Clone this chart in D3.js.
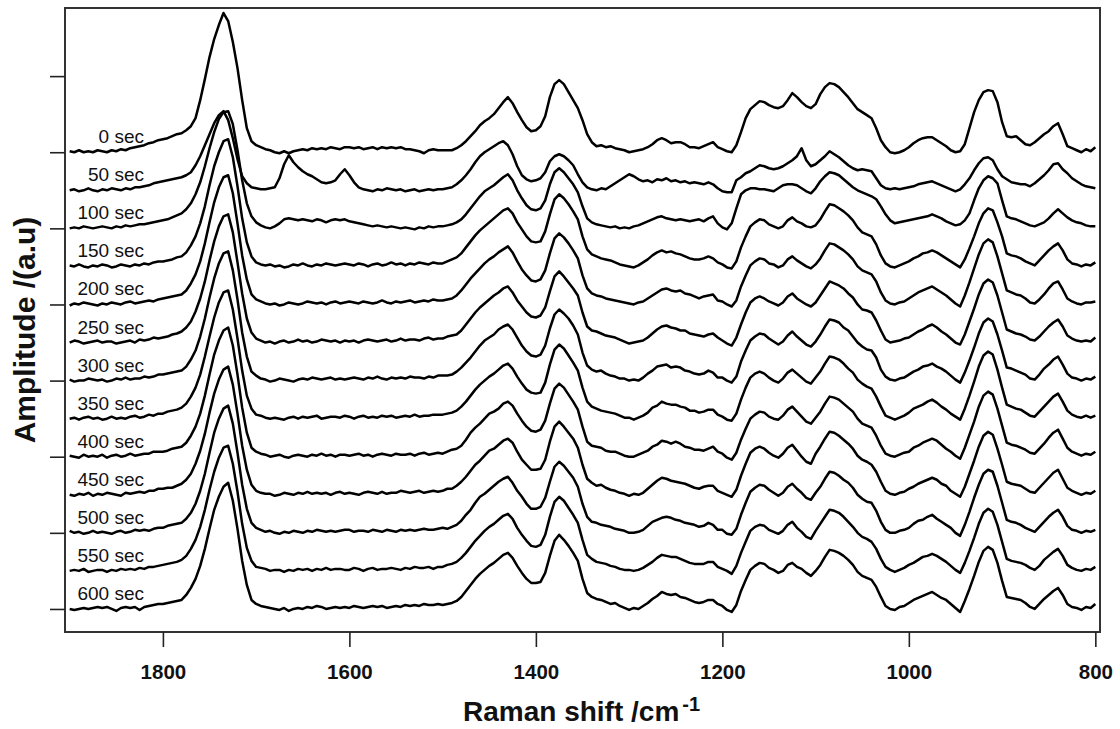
<!DOCTYPE html>
<html><head><meta charset="utf-8">
<script src="https://cdn.jsdelivr.net/npm/d3@7"></script>
<style>body{margin:0;background:#fff}svg{display:block}</style>
</head><body>
<svg id="chart" width="1120" height="729"></svg>
<script>
// Raman shift grid (cm^-1), 1900 -> 800 in 5 cm^-1 steps (221 points)
const wavenumbers = d3.range(1900, 795, -5);
const timeLabels = ["0 sec","50 sec","100 sec","150 sec","200 sec","250 sec","300 sec","350 sec","400 sec","450 sec","500 sec","550 sec","600 sec"];
const xTickValues = [1800, 1600, 1400, 1200, 1000, 800];
const yTickValues = [0, 76, 152, 228, 304, 380, 456, 532];
const offsetStep = 38; // vertical stacking offset between spectra (a.u.)

// amplitudes (a.u., relative to each spectrum's own baseline)
const amp0 = [
 1,0,2,0,1,0,2,1,0,2,1,3,2,4,5,6,7,9,10,12,
 13,14,16,18,19,22,26,34,52,73,95,113,127,139,131,110,84,52,24,11,
 7,5,3,2,0,-1,1,-1,1,2,3,2,4,3,4,3,5,4,3,5,
 5,4,5,3,4,5,3,5,4,5,4,5,3,3,2,1,-1,2,3,2,
 2,2,2,4,7,11,16,21,27,31,34,38,44,50,55,49,40,32,25,21,
 22,26,36,55,68,72,68,60,52,44,32,18,10,6,7,5,6,4,3,2,
 0,1,2,3,5,8,12,14,12,9,10,10,8,5,5,4,6,8,10,5,
 3,1,0,7,20,34,43,47,51,50,47,45,44,46,52,59,55,50,46,44,
 48,58,65,69,68,65,60,55,49,43,40,37,34,24,12,5,0,-1,0,2,
 5,9,12,14,15,15,12,9,6,2,0,1,8,24,40,52,60,62,61,50,
 30,16,15,16,12,8,7,10,14,18,21,26,29,18,6,4,2,0,3,1,
 5];
const amp50 = [
 0,1,-1,0,2,0,-1,1,0,2,1,0,2,1,3,3,4,5,7,8,
 9,10,11,12,13,15,18,25,34,45,56,67,75,79,70,52,31,14,7,3,
 2,1,1,2,3,12,26,35,28,23,19,16,14,11,8,7,8,10,16,21,
 15,8,3,1,0,-1,1,0,2,1,0,1,-1,0,1,-1,0,1,0,1,
 1,2,3,6,10,15,21,28,34,38,41,44,47,49,45,36,24,15,11,9,
 10,12,18,29,34,36,34,30,25,16,8,3,1,0,2,1,4,7,10,13,
 16,14,11,9,10,8,11,10,12,9,10,8,9,7,8,7,6,8,6,2,
 -1,-2,-2,10,13,17,19,22,25,24,22,21,22,24,27,30,34,42,30,24,
 26,30,34,39,36,33,29,25,22,20,21,20,19,12,5,2,1,2,1,2,
 3,4,6,7,8,9,7,5,3,1,-1,1,6,12,20,27,32,33,30,21,
 14,11,8,7,6,6,4,7,11,15,20,26,27,21,17,12,9,6,4,3,
 2];
const amp100 = [
 0,1,0,2,1,0,1,2,1,0,2,1,3,2,3,4,4,5,6,7,
 8,9,11,13,15,19,25,34,46,62,80,96,109,116,117,104,78,48,25,12,
 6,3,1,0,2,5,9,10,9,8,9,8,7,9,8,6,8,9,8,9,
 7,6,5,4,3,2,3,2,1,2,1,0,1,0,-1,1,0,2,1,2,
 2,3,4,6,9,14,20,26,32,37,40,43,47,51,54,48,38,30,23,19,
 18,20,28,44,56,60,56,50,44,36,22,10,6,4,3,2,1,2,0,1,
 0,2,3,5,7,9,11,12,10,9,8,9,8,7,8,9,7,10,12,5,
 1,-1,5,20,34,38,40,40,39,39,38,37,40,43,44,44,43,40,37,35,
 40,47,52,56,55,53,49,45,41,38,36,34,32,29,22,14,8,5,6,7,
 8,9,10,11,12,14,12,10,7,5,3,4,8,15,28,40,48,52,50,45,
 28,12,10,9,7,5,3,2,4,6,10,15,19,15,11,8,6,5,3,2,
 2];
const amp150 = [
 1,0,2,0,-1,1,0,2,1,-1,0,2,1,0,2,1,3,2,4,5,
 5,6,7,9,10,14,21,30,43,60,81,100,114,125,127,109,80,48,24,10,
 4,2,1,2,0,1,-1,0,2,1,3,1,0,2,1,3,2,1,2,3,
 2,1,3,2,0,2,3,1,2,4,2,3,1,3,2,4,3,2,4,3,
 3,5,7,9,13,19,25,31,36,40,44,48,52,56,58,53,44,37,30,25,
 24,25,35,52,67,72,68,62,55,47,30,17,12,10,8,7,6,4,2,1,
 0,-1,1,4,7,11,14,16,14,15,13,12,10,8,7,7,8,10,8,4,
 2,-1,-2,5,19,30,40,44,47,46,42,40,38,40,46,49,45,43,40,39,
 41,47,55,62,61,58,55,51,46,39,34,32,30,22,11,3,0,-1,1,3,
 5,8,10,13,14,16,14,11,8,5,2,-1,7,18,30,43,53,58,56,44,
 30,13,11,10,8,5,3,1,6,11,16,20,23,16,7,3,2,0,2,1,
 4];
const amp200 = [
 -1,1,0,2,1,0,-1,1,0,2,1,0,2,3,1,2,3,4,3,5,
 6,7,8,9,10,14,21,30,43,61,82,102,117,127,129,111,81,49,25,10,
 5,3,1,0,1,-1,0,2,1,0,1,3,2,1,2,0,2,3,1,2,
 3,2,1,3,2,1,2,4,2,1,3,2,3,4,2,3,4,3,5,4,
 4,5,6,9,14,20,26,31,36,41,45,48,52,55,58,52,43,35,29,24,
 23,25,34,51,66,71,67,61,54,46,29,16,11,9,8,6,5,4,3,2,
 1,0,2,3,6,9,12,15,16,14,13,14,11,10,8,6,8,9,10,4,
 3,0,-2,4,18,29,39,43,46,45,41,40,37,39,45,48,44,41,38,36,
 40,46,54,61,60,57,54,50,45,38,34,32,30,23,12,4,1,0,2,3,
 6,9,12,14,16,18,15,12,9,5,1,-2,9,22,36,50,61,65,62,48,
 31,14,12,10,9,6,2,1,5,10,16,21,23,15,6,3,1,0,2,2,
 3];
const amp250 = [
 0,2,1,-1,0,1,2,0,1,1,-1,0,1,2,0,3,2,3,5,4,
 5,6,8,9,11,15,21,31,44,61,82,101,116,126,128,110,80,49,24,10,
 4,2,0,1,-1,1,2,0,1,3,1,2,0,1,3,2,1,2,0,2,
 1,2,0,2,3,2,1,2,3,1,2,4,2,3,3,2,4,5,3,4,
 4,6,7,8,12,18,24,30,35,39,43,47,50,54,56,50,42,36,30,26,
 25,27,35,51,66,71,66,60,54,47,30,16,12,11,9,7,6,5,3,1,
 -1,0,1,2,5,9,13,16,17,15,14,12,12,9,8,7,6,8,9,5,
 2,-1,-3,5,18,30,40,44,46,44,41,39,37,40,46,49,44,41,38,36,
 40,47,54,61,59,57,54,49,45,38,33,32,30,22,12,3,0,1,2,4,
 5,8,11,13,16,18,15,11,8,4,0,-2,8,21,34,48,59,63,60,47,
 30,13,11,9,8,6,3,2,6,11,16,20,23,16,7,4,2,1,2,1,
 5];
const amp300 = [
 1,-1,0,0,2,1,0,1,-1,0,2,1,3,1,2,2,4,3,4,6,
 6,7,8,9,10,14,21,30,44,62,83,102,117,127,129,110,81,48,24,9,
 5,2,1,-1,0,2,1,0,-1,1,2,1,3,2,1,2,3,1,2,1,
 2,3,2,1,3,2,4,2,1,3,2,3,2,4,3,3,2,4,3,5,
 5,5,6,9,13,18,23,29,35,40,43,46,51,54,56,51,43,35,29,25,
 24,26,35,52,66,71,67,62,55,46,28,15,11,9,10,7,5,4,2,2,
 0,1,0,3,7,10,14,15,16,13,14,13,10,9,7,6,7,10,8,3,
 3,0,-2,4,19,30,40,44,47,46,42,39,36,39,45,49,44,40,36,34,
 39,46,54,61,60,58,53,50,44,38,34,31,30,23,11,4,1,0,2,3,
 6,9,11,14,15,17,14,12,9,5,1,-2,8,20,33,47,58,62,59,46,
 30,13,12,10,8,6,2,1,6,12,16,21,24,16,7,3,2,0,2,1,
 4];
const amp350 = [
 0,1,-1,1,2,0,1,-1,0,2,0,1,0,2,3,1,2,4,3,5,
 5,7,8,9,11,15,22,31,44,62,82,101,116,126,128,109,80,48,23,10,
 4,3,1,0,1,0,-1,1,2,0,2,1,2,3,0,1,2,2,1,3,
 2,0,2,3,1,2,1,3,2,3,1,2,3,2,4,2,3,3,4,4,
 4,5,6,8,12,17,23,29,34,38,42,45,49,53,55,50,42,35,29,26,
 25,26,36,54,69,74,70,63,56,48,31,17,12,10,8,7,6,5,3,1,
 1,-1,1,3,6,11,13,17,15,14,14,12,11,8,8,6,7,9,9,4,
 2,-1,-2,5,19,31,41,45,47,45,41,38,36,40,46,49,45,41,37,35,
 41,47,55,62,61,59,55,50,46,39,35,32,30,22,12,3,1,-1,1,3,
 6,10,12,14,17,19,16,12,9,5,2,-1,10,23,37,52,63,67,64,49,
 31,14,12,10,9,6,3,2,7,12,17,22,25,17,8,4,2,1,3,1,
 3];
const amp400 = [
 1,0,-1,2,0,1,0,2,-1,1,2,0,1,3,1,2,3,3,5,5,
 5,6,8,9,10,14,21,30,43,61,82,102,116,126,129,111,82,49,24,9,
 5,3,2,0,1,2,0,-1,1,2,1,0,2,1,3,1,2,0,2,2,
 1,2,3,1,2,0,2,3,2,1,3,2,2,3,1,3,4,2,3,4,
 3,5,7,8,11,17,24,29,33,38,43,45,48,53,55,51,43,36,30,26,
 25,27,36,53,68,73,69,62,55,47,30,15,11,10,9,6,5,5,3,1,
 0,0,2,4,6,10,12,16,15,13,15,13,10,9,7,7,6,8,10,5,
 3,-1,-3,4,17,28,38,42,45,44,40,38,37,41,47,50,45,40,35,33,
 39,45,53,60,59,57,53,49,45,38,33,31,29,21,11,3,1,0,2,4,
 5,9,11,14,16,18,16,12,8,5,1,-2,9,22,35,50,61,65,62,48,
 31,14,12,11,9,7,4,3,8,13,19,24,27,18,9,5,3,1,3,2,
 5];
const amp450 = [
 0,-1,1,0,2,-1,1,0,2,1,0,-1,2,1,2,3,2,4,4,6,
 6,7,7,9,11,15,21,31,44,61,82,101,115,125,128,110,81,49,25,10,
 4,2,1,1,-1,0,2,1,0,2,1,3,1,2,1,2,0,2,3,1,
 2,1,0,2,3,2,1,3,1,2,2,4,3,2,3,4,2,3,4,3,
 4,6,6,9,13,18,24,30,34,39,44,46,50,54,56,52,43,35,30,25,
 25,26,35,53,68,73,68,62,56,47,30,16,12,9,10,7,5,4,2,1,
 -1,1,0,2,6,10,14,17,16,14,13,12,11,9,7,6,8,9,9,4,
 2,0,-2,5,19,31,42,46,48,46,42,39,37,41,47,50,44,38,33,31,
 41,48,56,63,62,59,55,51,46,39,35,33,30,23,13,4,1,0,2,3,
 6,8,11,13,15,17,15,11,9,4,1,-2,8,21,34,48,59,63,60,46,
 30,13,11,10,9,6,3,2,7,12,17,22,25,16,7,4,2,0,2,1,
 4];
const amp500 = [
 2,0,1,-1,0,2,0,1,0,-1,1,2,0,1,3,2,3,2,4,5,
 5,7,8,9,10,14,20,29,42,59,80,100,114,124,127,109,80,48,24,10,
 5,3,1,2,0,-1,1,0,2,1,0,2,1,3,2,1,2,1,2,3,
 3,1,2,2,1,3,2,1,3,2,1,3,2,3,2,3,4,3,3,4,
 5,4,6,8,12,18,23,30,36,39,43,47,51,54,56,50,42,36,29,24,
 24,26,35,51,66,71,67,61,55,46,29,16,11,10,8,7,6,4,3,2,
 0,0,1,3,7,11,13,15,16,15,13,12,10,9,8,6,7,10,8,3,
 3,-1,-2,4,18,30,41,45,48,47,43,40,37,40,46,49,44,40,35,33,
 40,46,54,61,60,57,53,50,45,38,34,31,30,22,11,3,0,0,2,3,
 5,9,12,13,16,18,14,11,8,5,0,-3,8,21,35,48,59,63,61,47,
 30,13,11,10,8,5,3,1,6,11,16,20,23,16,7,3,2,0,2,1,
 3];
const amp550 = [
 0,1,0,2,-1,0,1,1,-1,1,0,2,1,2,1,3,2,4,4,5,
 6,7,8,9,11,15,22,31,44,61,81,99,113,123,125,107,79,47,23,10,
 4,3,2,0,1,1,-1,1,0,2,1,2,0,2,1,3,1,2,2,1,
 1,3,2,0,2,3,1,2,2,3,2,1,3,2,4,3,3,4,2,4,
 4,6,7,9,13,18,24,30,35,40,44,47,51,55,57,52,43,36,30,25,
 24,26,36,54,69,74,70,63,56,48,31,16,12,9,8,7,5,4,2,1,
 1,0,1,3,6,9,13,16,15,14,14,12,10,8,7,7,7,9,9,4,
 2,0,-3,5,18,29,40,44,46,45,41,39,37,40,46,49,43,39,34,32,
 40,47,54,61,60,58,54,49,44,38,34,32,29,22,12,4,1,-1,1,3,
 6,8,11,14,15,17,15,12,9,5,1,-2,8,20,33,47,58,62,59,46,
 29,12,10,9,8,6,3,1,5,11,15,19,22,15,6,3,1,0,2,1,
 4];
const amp600 = [
 0,-1,0,1,0,1,2,1,2,0,-2,1,2,1,2,-1,2,3,4,5,
 5,6,7,8,9,14,21,30,43,60,80,99,112,122,126,108,80,48,24,9,
 5,3,2,1,0,-1,1,-2,0,1,0,2,1,3,2,0,1,2,1,2,
 1,3,2,1,2,3,2,3,1,2,3,2,4,3,4,3,5,4,4,5,
 4,5,6,8,12,18,24,30,35,39,43,46,50,54,56,51,43,36,30,26,
 26,27,36,53,68,74,69,63,56,48,30,16,12,10,9,7,5,6,3,1,
 -1,1,0,3,6,10,13,17,15,14,15,12,11,9,7,6,7,9,9,5,
 3,-1,-3,4,18,29,39,43,46,45,41,39,36,38,44,46,42,40,36,33,
 38,44,52,59,58,56,53,49,44,37,33,31,29,22,12,3,0,-1,2,3,
 6,9,11,13,15,17,14,11,9,5,1,-3,8,20,33,47,58,62,59,46,
 28,12,11,10,9,6,2,0,5,10,14,18,21,14,5,2,1,-1,2,1,
 5];

const spectra = [amp0, amp50, amp100, amp150, amp200, amp250, amp300, amp350, amp400, amp450, amp500, amp550, amp600];

const svg = d3.select("#chart");
const font = "'Liberation Sans', Arial, Helvetica, sans-serif";
const plot = {left: 65, top: 8, right: 1100, bottom: 632};

const x = d3.scaleLinear().domain([1905, 795]).range([plot.left, plot.right]);
const y = d3.scaleLinear().domain([-23, 600]).range([plot.bottom, plot.top]);

svg.append("rect").attr("width", 1120).attr("height", 729).attr("fill", "#fff");

// spectra
const n = spectra.length;
spectra.forEach((vals, i) => {
  const off = (n - 1 - i) * offsetStep;
  const line = d3.line()
    .x((d, j) => x(wavenumbers[j]))
    .y(d => y(d + off));
  svg.append("path")
    .attr("d", line(vals))
    .attr("fill", "none")
    .attr("stroke", "#000")
    .attr("stroke-width", 2.5)
    .attr("stroke-linejoin", "round");
  svg.append("text")
    .attr("x", 144)
    .attr("y", y(off) - 9)
    .attr("text-anchor", "end")
    .attr("font-family", font)
    .attr("font-size", 19)
    .attr("fill", "#111")
    .text(timeLabels[i]);
});

// frame
svg.append("rect")
  .attr("x", plot.left).attr("y", plot.top)
  .attr("width", plot.right - plot.left).attr("height", plot.bottom - plot.top)
  .attr("fill", "none").attr("stroke", "#333").attr("stroke-width", 2);

// axes
const xAxis = d3.axisBottom(x).tickValues(xTickValues).tickSize(15).tickSizeOuter(0).tickPadding(17).tickFormat(d3.format("d"));
const gx = svg.append("g").attr("transform", `translate(0,${plot.bottom})`).call(xAxis);
gx.select(".domain").remove();
gx.selectAll("line").attr("stroke", "#222").attr("stroke-width", 1.6);
gx.selectAll("text").attr("font-family", font).attr("font-size", 20.5).attr("font-weight", "bold").attr("fill", "#111");

const yAxis = d3.axisLeft(y).tickValues(yTickValues).tickSize(15).tickSizeOuter(0).tickFormat("");
const gy = svg.append("g").attr("transform", `translate(${plot.left},0)`).call(yAxis);
gy.select(".domain").remove();
gy.selectAll("line").attr("stroke", "#222").attr("stroke-width", 1.6);

// titles
const xt = svg.append("text")
  .attr("x", 463).attr("y", 721)
  .attr("font-family", font).attr("font-size", 28).attr("font-weight", "bold").attr("fill", "#111");
xt.append("tspan").text("Raman shift /cm");
xt.append("tspan").attr("dx", 3).attr("dy", -10).attr("font-size", 20).text("-1");

svg.append("text")
  .attr("transform", "translate(35,330) rotate(-90)")
  .attr("text-anchor", "middle")
  .attr("font-family", font).attr("font-size", 30).attr("font-weight", "bold").attr("fill", "#111")
  .text("Amplitude /(a.u)");
</script>
</body></html>
